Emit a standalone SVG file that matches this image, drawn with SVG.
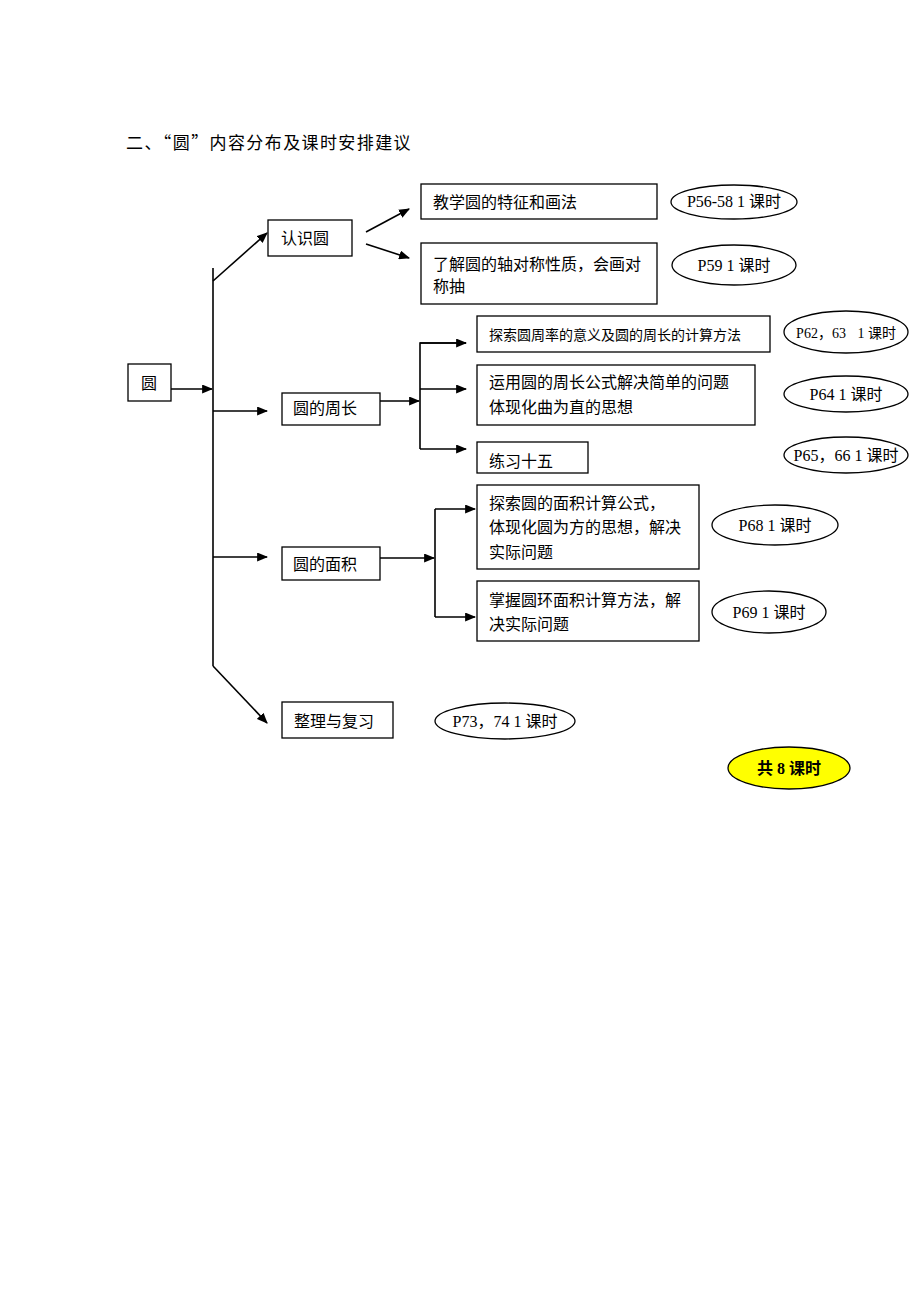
<svg xmlns="http://www.w3.org/2000/svg" width="920" height="1302" viewBox="0 0 920 1302">
<style>
.t{font-family:"Liberation Serif","Noto Sans CJK SC",serif;font-size:16px;fill:#000}
.cjk{font-family:"Noto Sans CJK SC",sans-serif}
.s{font-size:14px}
.b{font-weight:bold}
.box{fill:#fff;stroke:#000;stroke-width:1.3}
.el{fill:#fff;stroke:#000;stroke-width:1.3}
.ln{fill:none;stroke:#000;stroke-width:1.6}
.ar{fill:none;stroke:#000;stroke-width:1.6;marker-end:url(#ah)}
</style>
<defs>
<marker id="ah" viewBox="0 0 10 10" refX="9" refY="5" markerWidth="11" markerHeight="9" markerUnits="userSpaceOnUse" orient="auto" preserveAspectRatio="none">
<path d="M0,0 L10,5 L0,10 z" fill="#000"/>
</marker>
</defs>
<rect width="920" height="1302" fill="#fff"/>
<text class="t" x="126" y="149" style="font-size:17px;letter-spacing:1.4px">二、<tspan class="cjk">“</tspan>圆<tspan class="cjk">”</tspan>内容分布及课时安排建议</text>

<g id="connectors">
<line class="ar" x1="171" y1="389" x2="212" y2="389"/>
<line class="ln" x1="213" y1="268" x2="213" y2="666"/>
<line class="ar" x1="213" y1="281" x2="267" y2="233"/>
<line class="ar" x1="366" y1="232" x2="409" y2="209"/>
<line class="ar" x1="366" y1="244" x2="409" y2="258"/>
<line class="ar" x1="213" y1="411" x2="267" y2="411"/>
<line class="ar" x1="380" y1="401" x2="419" y2="401"/>
<polyline class="ln" points="466,343 420,343 420,449"/>
<line class="ar" x1="420" y1="343" x2="466" y2="343"/>
<line class="ar" x1="420" y1="389" x2="466" y2="389"/>
<line class="ar" x1="420" y1="449" x2="466" y2="449"/>
<line class="ar" x1="213" y1="557" x2="267" y2="557"/>
<line class="ar" x1="380" y1="558" x2="434" y2="558"/>
<line class="ln" x1="435" y1="509" x2="435" y2="617"/>
<line class="ar" x1="435" y1="509" x2="475" y2="509"/>
<line class="ar" x1="435" y1="617" x2="475" y2="617"/>
<line class="ar" x1="213" y1="666" x2="267" y2="723"/>
</g>

<g id="n-root"><rect class="box" x="128" y="364" width="43" height="37"/><text class="t" x="141" y="389">圆</text></g>
<g id="n-renshi"><rect class="box" x="268" y="220" width="84" height="36"/><text class="t" x="281" y="244">认识圆</text></g>
<g id="n-a1"><rect class="box" x="421" y="184" width="236" height="35"/><text class="t" x="433" y="208">教学圆的特征和画法</text></g>
<g id="n-a2"><rect class="box" x="421" y="243" width="236" height="61"/><text class="t" x="433" y="270">了解圆的轴对称性质，会画对</text><text class="t" x="433" y="292">称抽</text></g>
<g id="e-a1"><ellipse class="el" cx="734" cy="202" rx="63" ry="17"/><text class="t" x="734" y="207" text-anchor="middle">P56-58 1 课时</text></g>
<g id="e-a2"><ellipse class="el" cx="734" cy="265" rx="62" ry="20"/><text class="t" x="734" y="271" text-anchor="middle">P59 1 课时</text></g>

<g id="n-zhouchang"><rect class="box" x="282" y="393" width="98" height="32"/><text class="t" x="293" y="414">圆的周长</text></g>
<g id="n-b1"><rect class="box" x="477" y="316" width="293" height="36"/><text class="t s" x="489" y="340">探索圆周率的意义及圆的周长的计算方法</text></g>
<g id="n-b2"><rect class="box" x="477" y="365" width="278" height="60"/><text class="t" x="489" y="388">运用圆的周长公式解决简单的问题</text><text class="t" x="489" y="413">体现化曲为直的思想</text></g>
<g id="n-b3"><rect class="box" x="477" y="442" width="111" height="31"/><text class="t" x="489" y="467">练习十五</text></g>
<g id="e-b1"><ellipse class="el" cx="846" cy="332" rx="62" ry="21"/><text class="t s" x="846" y="338" text-anchor="middle">P62，63 <tspan dx="8">1 课时</tspan></text></g>
<g id="e-b2"><ellipse class="el" cx="846" cy="394" rx="62" ry="18"/><text class="t" x="846" y="400" text-anchor="middle">P64 1 课时</text></g>
<g id="e-b3"><ellipse class="el" cx="846" cy="455" rx="62" ry="18"/><text class="t" x="846" y="461" text-anchor="middle">P65，66 1 课时</text></g>

<g id="n-mianji"><rect class="box" x="282" y="547" width="98" height="33"/><text class="t" x="293" y="570">圆的面积</text></g>
<g id="n-c1"><rect class="box" x="477" y="485" width="222" height="84"/><text class="t" x="489" y="509">探索圆的面积计算公式，</text><text class="t" x="489" y="533">体现化圆为方的思想，解决</text><text class="t" x="489" y="558">实际问题</text></g>
<g id="n-c2"><rect class="box" x="477" y="581" width="222" height="60"/><text class="t" x="489" y="606">掌握圆环面积计算方法，解</text><text class="t" x="489" y="630">决实际问题</text></g>
<g id="e-c1"><ellipse class="el" cx="775" cy="525" rx="63" ry="20"/><text class="t" x="775" y="531" text-anchor="middle">P68 1 课时</text></g>
<g id="e-c2"><ellipse class="el" cx="769" cy="612" rx="57" ry="21"/><text class="t" x="769" y="618" text-anchor="middle">P69 1 课时</text></g>

<g id="n-fuxi"><rect class="box" x="282" y="702" width="111" height="36"/><text class="t" x="294" y="727">整理与复习</text></g>
<g id="e-d"><ellipse class="el" cx="505" cy="721" rx="70" ry="18"/><text class="t" x="505" y="727" text-anchor="middle">P73，74 1 课时</text></g>

<g id="e-total"><ellipse cx="789" cy="768" rx="61" ry="21" fill="#ffff00" stroke="#000" stroke-width="1.3"/><text class="t b" x="789" y="774" text-anchor="middle">共 8 课时</text></g>
</svg>
